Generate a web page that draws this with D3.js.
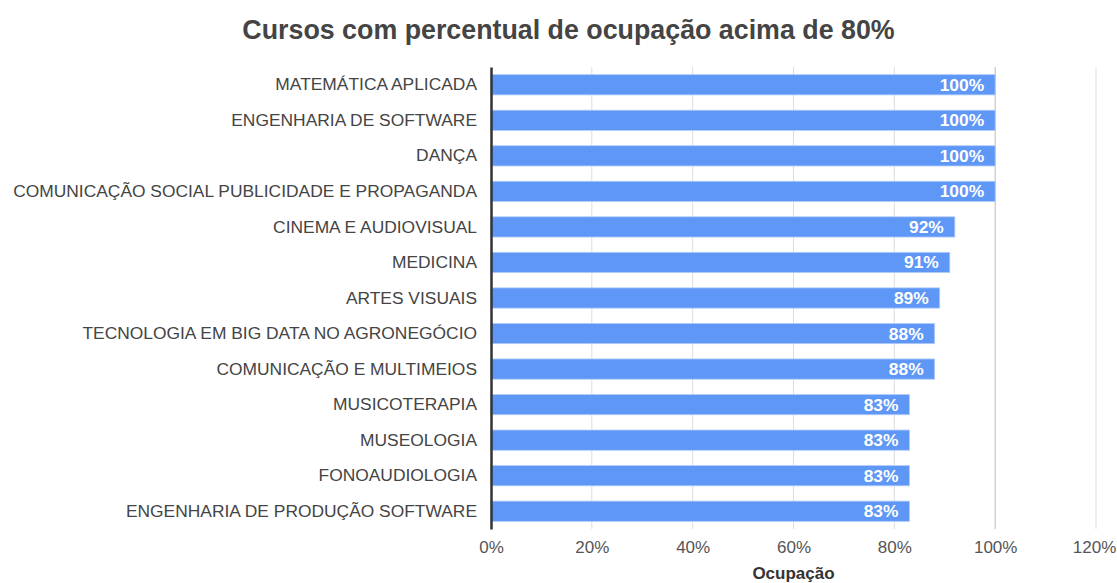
<!DOCTYPE html>
<html><head><meta charset="utf-8">
<script src="https://cdn.jsdelivr.net/npm/d3@7"></script>
<style>body{margin:0;background:#fff}svg{display:block}</style>
</head><body>
<script>
const categories = ["MATEMÁTICA APLICADA","ENGENHARIA DE SOFTWARE","DANÇA","COMUNICAÇÃO SOCIAL PUBLICIDADE E PROPAGANDA","CINEMA E AUDIOVISUAL","MEDICINA","ARTES VISUAIS","TECNOLOGIA EM BIG DATA NO AGRONEGÓCIO","COMUNICAÇÃO E MULTIMEIOS","MUSICOTERAPIA","MUSEOLOGIA","FONOAUDIOLOGIA","ENGENHARIA DE PRODUÇÃO SOFTWARE"];
const values = [100,100,100,100,92,91,89,88,88,83,83,83,83];
const ticks = [0,20,40,60,80,100,120];
const title = "Cursos com percentual de ocupação acima de 80%";
const xTitle = "Ocupação";

const W=1117,H=583;
const svg=d3.select("body").append("svg").attr("width",W).attr("height",H);
const font="'Liberation Sans', Arial, sans-serif";
const x=d3.scaleLinear().domain([0,120]).range([491,1096]);
const y=d3.scaleBand().domain(categories).range([67,529]).paddingInner(0.43).paddingOuter(0.215);

svg.append("text").attr("x",568.5).attr("y",39).attr("text-anchor","middle")
 .attr("font-family",font).attr("font-weight","bold").attr("font-size",26.8).attr("fill","#444").text(title);

// grid
svg.append("g").selectAll("line").data(ticks.slice(1)).join("line")
 .attr("x1",d=>x(d)).attr("x2",d=>x(d)).attr("y1",67).attr("y2",529)
 .attr("stroke",d=>d===100?"#bbb":"#ddd").attr("stroke-width",1);

// bars
svg.append("g").selectAll("rect").data(values).join("rect")
 .attr("x",x(0)).attr("y",(d,i)=>y(categories[i]))
 .attr("width",d=>x(d)-x(0)).attr("height",y.bandwidth())
 .attr("fill","#5e97f6").attr("stroke","#b3cdfb").attr("stroke-width",0.8);

// value labels
svg.append("g").selectAll("text").data(values).join("text")
 .attr("x",d=>x(d)-11).attr("y",(d,i)=>y(categories[i])+y.bandwidth()/2+6)
 .attr("text-anchor","end").attr("font-family",font).attr("font-weight","bold")
 .attr("font-size",17.4).attr("fill","#fff").text(d=>d+"%");

// y axis
const ya=svg.append("g").attr("transform",`translate(${x(0)},0)`).call(d3.axisLeft(y).tickSize(0).tickPadding(14));
ya.select(".domain").attr("stroke","#333").attr("stroke-width",2.5);
ya.selectAll("text").attr("font-family",font).attr("font-size",17.4).attr("fill","#444");

// x axis
const xa=svg.append("g").attr("transform","translate(0,529)").call(d3.axisBottom(x).tickValues(ticks).tickSize(0).tickPadding(12).tickFormat(d=>d+"%"));
xa.select(".domain").remove();
xa.selectAll("text").attr("font-family",font).attr("font-size",17).attr("fill","#555")
  .attr("dx",d=>d===120?-2:0);

svg.append("text").attr("x",x(60)).attr("y",579).attr("text-anchor","middle")
 .attr("font-family",font).attr("font-weight","bold").attr("font-size",17).attr("fill","#333").text(xTitle);
</script>
</body></html>
